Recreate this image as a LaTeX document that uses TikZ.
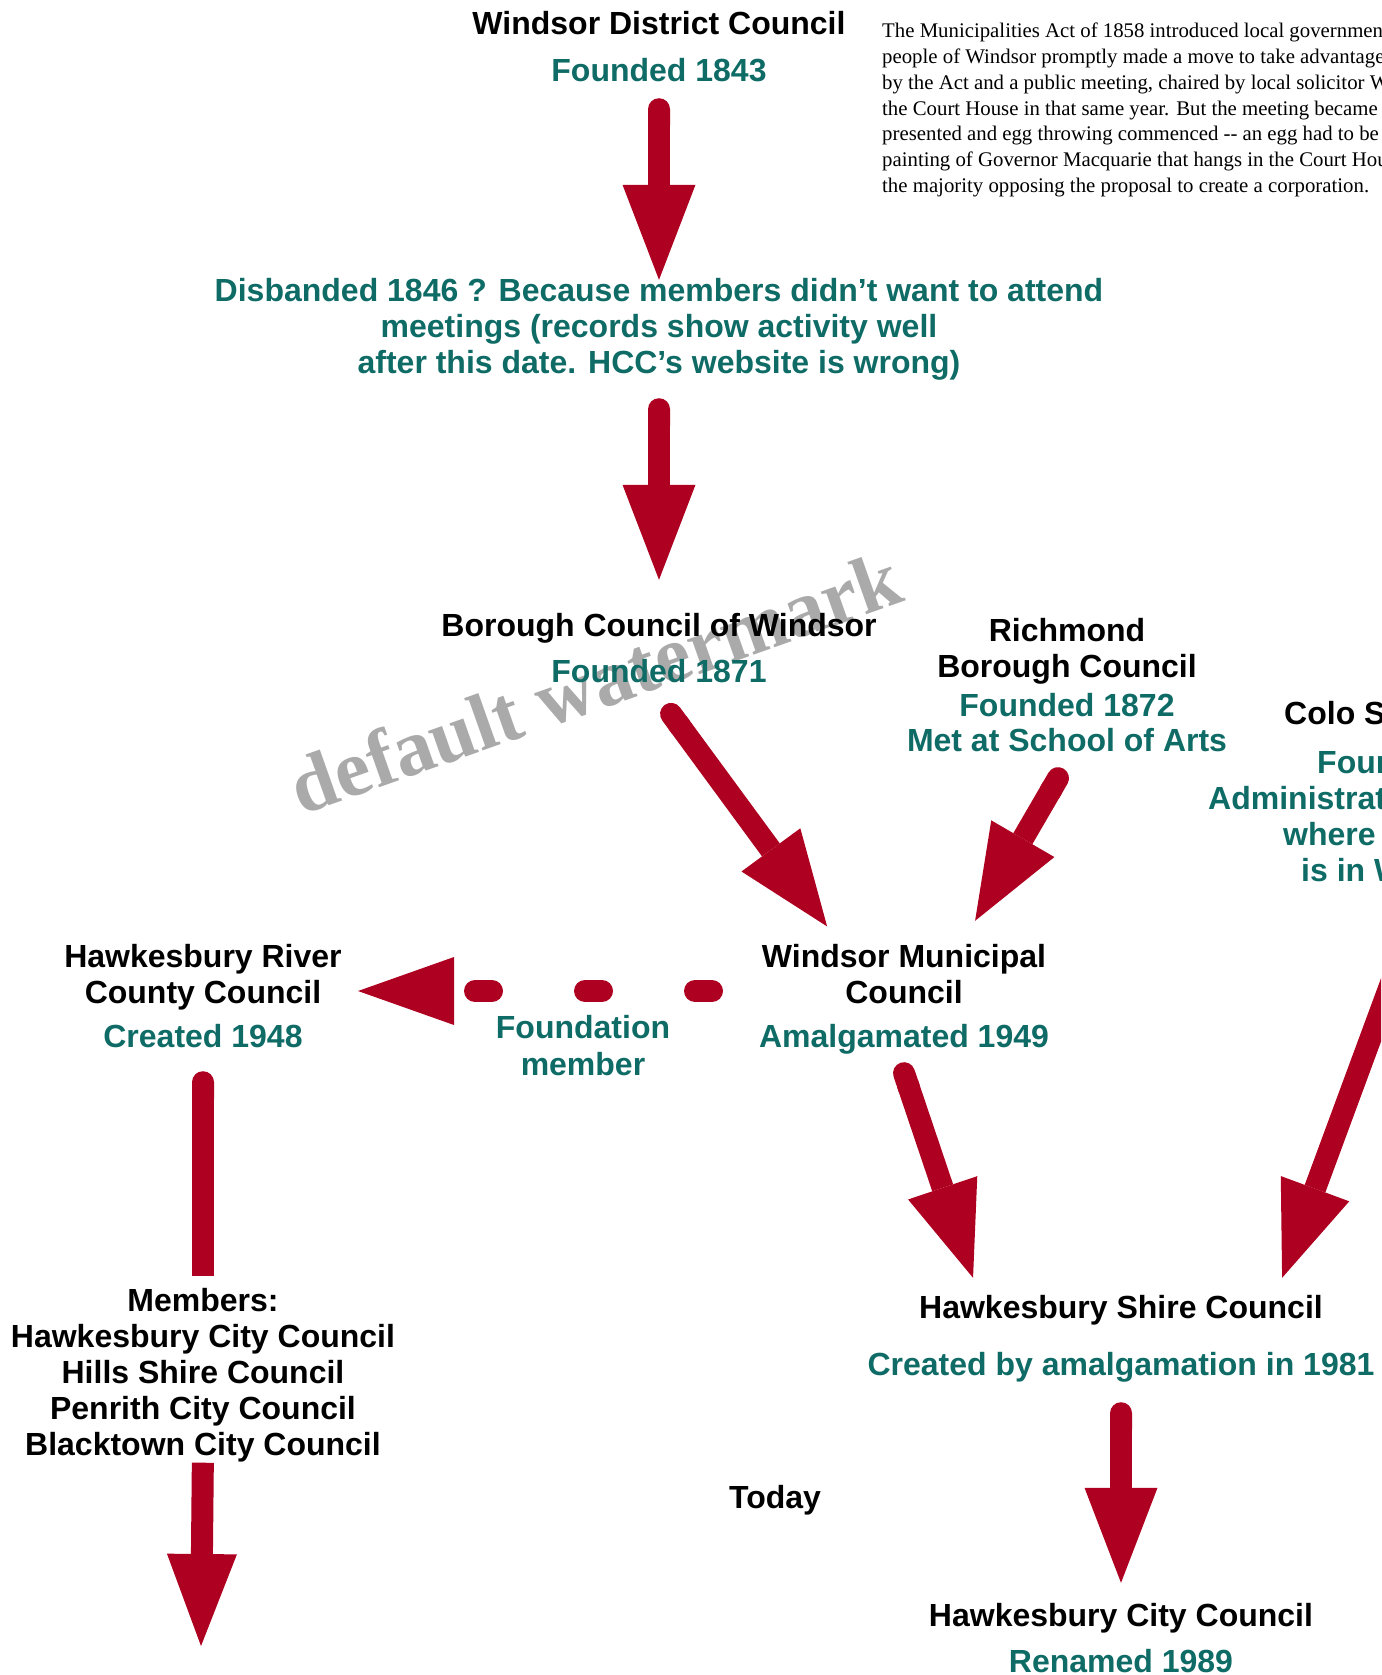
\documentclass[tikz,border=0pt]{standalone}
\usepackage{fontspec}
\setmainfont{Liberation Sans}
\newfontfamily\notefont{Liberation Serif}
\usetikzlibrary{arrows.meta}
\definecolor{arrc}{HTML}{AE0020}
\definecolor{tealc}{HTML}{0F6B65}
\definecolor{wmarkc}{HTML}{AAAAAA}
\tikzset{
  ttl/.style={anchor=base,inner sep=0pt,text height=24pt,text depth=7pt,font=\fontsize{32pt}{36pt}\selectfont\bfseries},
  sub/.style={ttl,text=tealc},
  note/.style={anchor=base west,inner sep=0pt,font=\notefont\fontsize{20.8pt}{25.7pt}\selectfont},
  ar/.style={line width=22pt,draw=arrc,{Round Cap}-{Triangle[length=95pt,width=73pt,line width=0pt]}},
  ln/.style={line width=22pt,draw=arrc,{Round Cap}-},
  endar/.style={line width=22pt,draw=arrc,-{Triangle[length=92pt,width=70pt,line width=0pt]}},
  dar/.style={line width=22pt,draw=arrc,line cap=round,dash pattern=on 17pt off 93pt,-{Triangle[length=96pt,width=68pt,line width=0pt]}},
  wmark/.style={inner sep=0pt,text=wmarkc,font=\notefont\bfseries\fontsize{80pt}{82pt}\selectfont}
}
\begin{document}
\begin{tikzpicture}[x=1pt,y=-1pt]
\useasboundingbox (0,0) rectangle (1381,1675);
\clip (0,0) rectangle (1381,1675);
% watermark (behind the texts)
\node[wmark,rotate=19.5] (wm) at (595,682) {default watermark};
% windsor district council
\node[ttl] (wdc) at (659,35) {Windsor District Council};
\node[sub] (wdcd) at (659,81.5) {Founded 1843};
\foreach \txt [count=\i] in {{Disbanded 1846 ? Because members didn’t want to attend},
  {meetings (records show activity well},{after this date. HCC’s website is wrong)}}
  \node[sub] (dis\i) at (659,{301.5+36*(\i-1)}) {\txt};
% note top right
\foreach \txt [count=\i] in {{The Municipalities Act of 1858 introduced local government},
  {people of Windsor promptly made a move to take advantage of},
  {by the Act and a public meeting, chaired by local solicitor W},
  {the Court House in that same year. But the meeting became unruly},
  {presented and egg throwing commenced -{}- an egg had to be},
  {painting of Governor Macquarie that hangs in the Court House},
  {the majority opposing the proposal to create a corporation.}}
  \node[note] (note\i) at (882,{38+25.7*(\i-1)}) {\txt};
% boroughs
\node[ttl] (boro) at (659,636.5) {Borough Council of Windsor};
\node[sub] (borod) at (659,682.5) {Founded 1871};
\node[ttl] (rbc1) at (1067,641.5) {Richmond};
\node[ttl] (rbc2) at (1067,677.5) {Borough Council};
\node[sub] (rbcd1) at (1067,716.5) {Founded 1872};
\node[sub] (rbcd2) at (1067,751.5) {Met at School of Arts};
\node[ttl,anchor=base west] (colo) at (1284,724.5) {Colo Shire};
\foreach \txt/\xx/\yy [count=\i] in {Founded/1317/773.5,Administration/1208/809.5,where/1283/845.5,{is in Windsor}/1301/881.5}
  \node[sub,anchor=base west] (colod\i) at (\xx,\yy) {\txt};
\coordinate (colo-foot) at (1429,880);
% councils
\node[ttl] (wmc1) at (904,967.5) {Windsor Municipal};
\node[ttl] (wmc2) at (904,1003.5) {Council};
\node[sub] (wmcd) at (904,1047.5) {Amalgamated 1949};
\node[ttl] (hrcc1) at (203,967.5) {Hawkesbury River};
\node[ttl] (hrcc2) at (203,1003.5) {County Council};
\node[sub] (hrccd) at (203,1047.5) {Created 1948};
\node[sub] (fm1) at (583,1038.5) {Foundation};
\node[sub] (fm2) at (583,1075.5) {member};
\foreach \txt [count=\i] in {Members:,{Hawkesbury City Council},{Hills Shire Council},{Penrith City Council},{Blacktown City Council}}
  \node[ttl] (mem\i) at (203,{1311.5+36*(\i-1)}) {\txt};
\coordinate (mem-end) at (201,1646);
\node[ttl] (hsc) at (1121,1318.5) {Hawkesbury Shire Council};
\node[sub] (hscd) at (1121,1375.5) {Created by amalgamation in 1981};
\node[ttl] (today) at (775,1508.5) {Today};
\node[ttl] (hcc) at (1121,1626.5) {Hawkesbury City Council};
\node[sub] (hccd) at (1121,1672.5) {Renamed 1989};
% arrows
\draw[ar,shorten <=9.5pt,shorten >=-2.5pt] (wdcd) -- (dis1);
\draw[ar,shorten <=17.5pt,shorten >=32.5pt] (dis3) -- (boro);
\draw[ar,shorten <=19pt,shorten >=20.9pt] ([xshift=-5.7pt]borod.south) -- ([xshift=-64.5pt]wmc1.north);
\draw[ar,shorten <=11.5pt,shorten >=26pt] ([xshift=2.3pt]rbcd2.south) -- ([xshift=58pt]wmc1.north);
\draw[ar,shorten <=8.5pt,shorten >=17.4pt] ([xshift=-6.2pt]wmcd.south) -- ([xshift=-142.4pt]hsc.north);
\draw[ar,shorten >=17.6pt] (colo-foot) -- ([xshift=155pt]hsc.north);
\draw[ar,shorten <=19.5pt,shorten >=19.5pt] (hscd) -- (hcc);
\draw[dar,shorten <=192pt,shorten >=155pt] ([yshift=4pt]wmc2.center) -- ([yshift=4pt]hrcc2.center);
\draw[ln,shorten <=16.5pt,shorten >=11.5pt] (hrccd) -- (mem1);
\draw[endar] (mem5) -- (mem-end);
\end{tikzpicture}
\end{document}
